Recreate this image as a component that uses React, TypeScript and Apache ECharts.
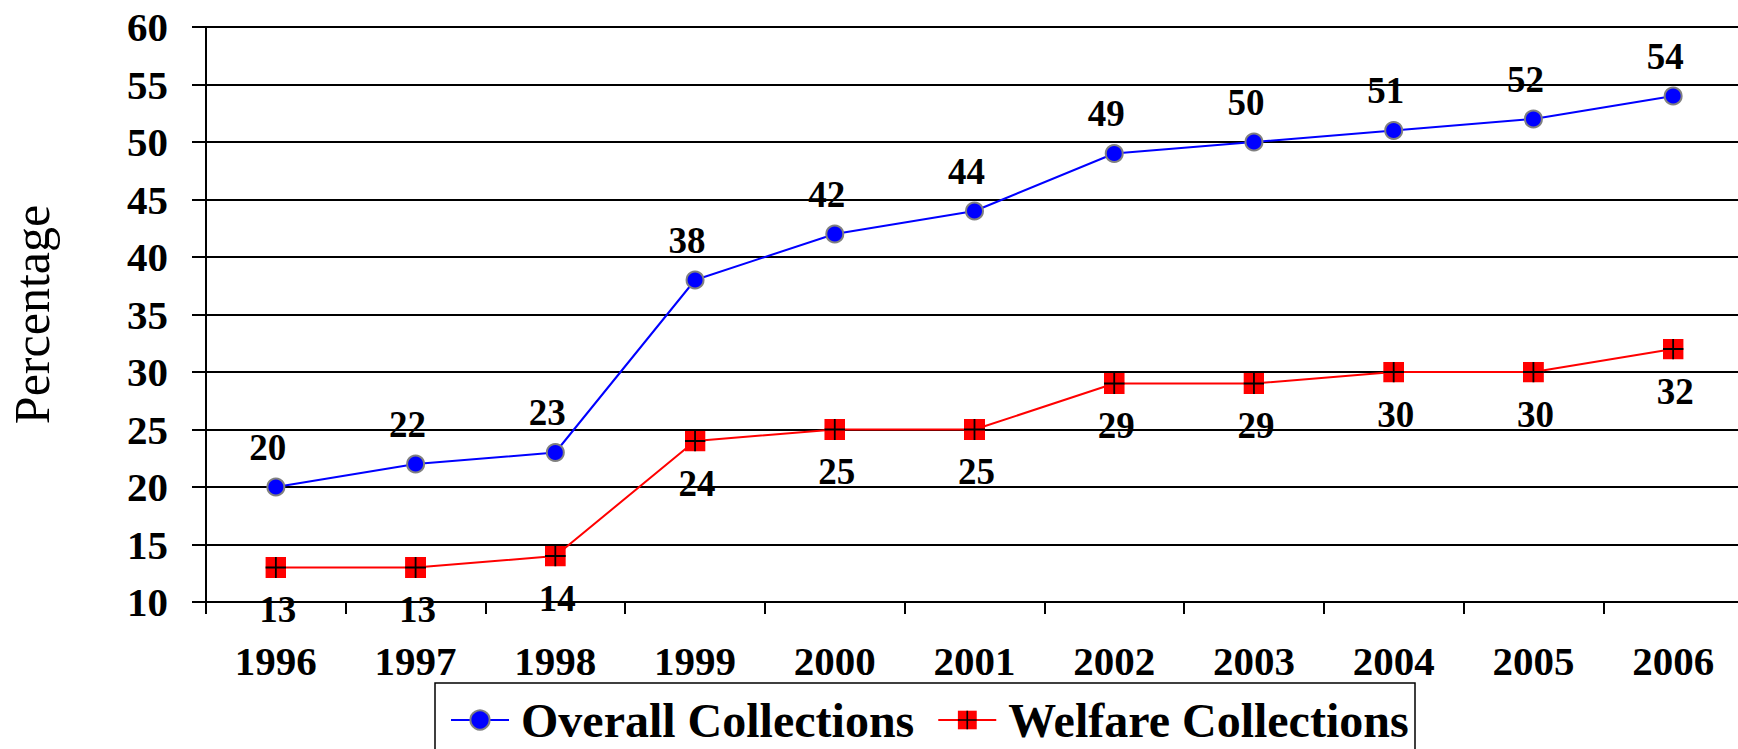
import React, { useEffect, useRef } from "react";
import * as echarts from "echarts";

const years = ["1996", "1997", "1998", "1999", "2000", "2001", "2002", "2003", "2004", "2005", "2006"];
const overallCollections = [20, 22, 23, 38, 42, 44, 49, 50, 51, 52, 54];
const welfareCollections = [13, 13, 14, 24, 25, 25, 29, 29, 30, 30, 32];
const yMin = 10;
const yMax = 60;
const yStep = 5;

const FONT = "'Liberation Serif', 'Times New Roman', Times, serif";

const squareCrossSvg =
  "<svg xmlns='http://www.w3.org/2000/svg' width='21' height='21' viewBox='0 0 21 21'>" +
  "<rect x='0' y='0' width='21' height='21' fill='#ff0000'/>" +
  "<path d='M10.5 0V21M0 10.5H21' stroke='#000000' stroke-width='1.8' fill='none'/>" +
  "</svg>";
const squareCrossSymbol = "image://data:image/svg+xml;charset=utf-8," + encodeURIComponent(squareCrossSvg);

export default function App() {
  const ref = useRef<HTMLDivElement>(null);

  useEffect(() => {
    if (!ref.current) return;
    const chart = echarts.init(ref.current, null, { renderer: "svg" });
    chart.setOption({
      animation: false,
      backgroundColor: "#ffffff",
      textStyle: { fontFamily: FONT },
      grid: { left: 206, top: 27, width: 1537, bottom: 147, containLabel: false, outerBoundsMode: "none" },
      xAxis: {
        type: "category",
        data: years,
        boundaryGap: true,
        axisLine: { show: true, lineStyle: { color: "#000", width: 2 } },
        axisTick: { show: true, length: 12, alignWithLabel: false, lineStyle: { color: "#000", width: 2 } },
        axisLabel: { color: "#000", fontFamily: FONT, fontWeight: "bold", fontSize: 41, margin: 38, interval: 0 },
        splitLine: { show: false },
      },
      yAxis: {
        type: "value",
        min: yMin,
        max: yMax,
        interval: yStep,
        name: "Percentage",
        nameLocation: "middle",
        nameRotate: 90,
        nameGap: 149,
        nameTextStyle: { color: "#000", fontFamily: FONT, fontSize: 50, fontWeight: "normal" },
        axisLine: { show: true, lineStyle: { color: "#000", width: 2 } },
        axisTick: { show: true, length: 14, inside: false, lineStyle: { color: "#000", width: 2 } },
        axisLabel: { color: "#000", fontFamily: FONT, fontWeight: "bold", fontSize: 41, margin: 38 },
        splitLine: { show: true, lineStyle: { color: "#000", width: 2 } },
      },
      legend: {
        show: true,
        left: 450,
        top: 696,
        padding: 0,
        itemGap: 23,
        itemWidth: 58,
        itemHeight: 24,
        data: ["Overall Collections", "Welfare Collections"],
        textStyle: { color: "#000", fontFamily: FONT, fontWeight: "bold", fontSize: 48, padding: [0, 0, 0, 7] },
      },
      graphic: [
        {
          type: "rect",
          shape: { x: 435, y: 683, width: 980, height: 120 },
          style: { fill: "none", stroke: "#000", lineWidth: 1.5 },
          silent: true,
          z: 1,
        },
      ],
      series: [
        {
          name: "Overall Collections",
          type: "line",
          data: overallCollections,
          symbol: "circle",
          symbolSize: 17,
          lineStyle: { color: "#0000ff", width: 2 },
          itemStyle: { color: "#0000ff", borderColor: "#808080", borderWidth: 2 },
          label: {
            show: true,
            position: "top",
            distance: 12,
            offset: [-8, 0],
            color: "#000",
            fontFamily: FONT,
            fontWeight: "bold",
            fontSize: 37,
          },
          z: 3,
        },
        {
          name: "Welfare Collections",
          type: "line",
          data: welfareCollections,
          symbol: squareCrossSymbol,
          symbolSize: 21,
          lineStyle: { color: "#ff0000", width: 2 },
          itemStyle: { color: "#ff0000" },
          label: {
            show: true,
            position: "bottom",
            distance: 13,
            offset: [2, 0],
            color: "#000",
            fontFamily: FONT,
            fontWeight: "bold",
            fontSize: 37,
          },
          z: 3,
        },
      ],
    });
    return () => chart.dispose();
  }, []);

  return (
    <div
      ref={ref}
      style={{ position: "fixed", left: 0, top: 0, width: 1738, height: 749, background: "#fff" }}
    />
  );
}
